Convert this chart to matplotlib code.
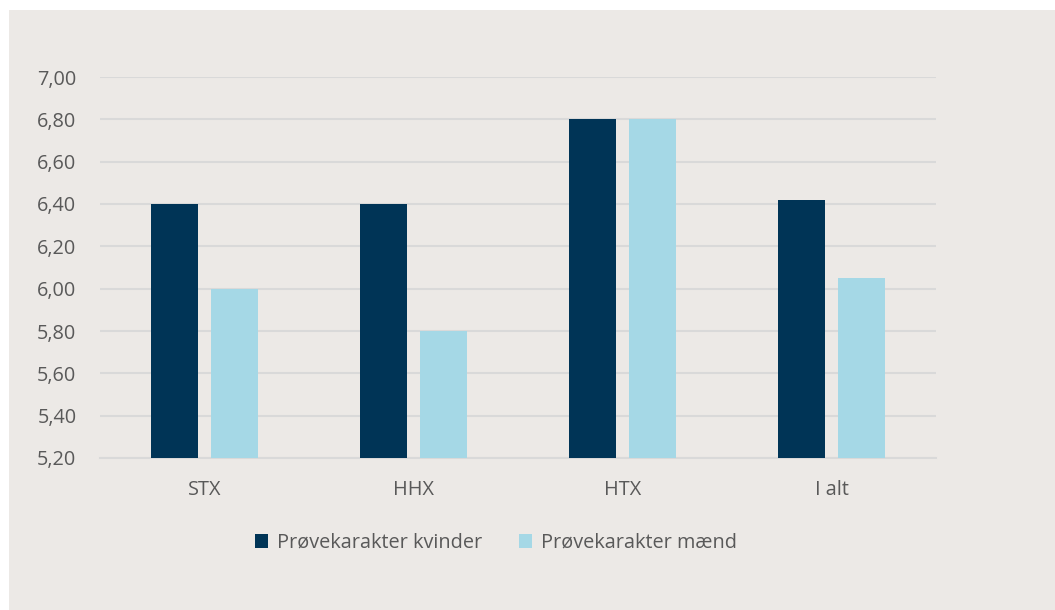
import numpy as np
import matplotlib.pyplot as plt
from matplotlib.patches import Rectangle

plt.rcParams["font.family"] = ["Open Sans", "DejaVu Sans"]

categories = ["STX", "HHX", "HTX", "I alt"]
kvinder = [6.40, 6.40, 6.80, 6.42]
maend = [6.00, 5.80, 6.80, 6.05]
yticks = [5.2, 5.4, 5.6, 5.8, 6.0, 6.2, 6.4, 6.6, 6.8, 7.0]
series_labels = ["Prøvekarakter kvinder", "Prøvekarakter mænd"]

W, H = 1055, 610
bg = "#ECE9E6"
text_col = "#595959"
grid_col = "#D9D9D9"

fig = plt.figure(figsize=(W / 100, H / 100), dpi=100, facecolor="white")
fig.patches.append(Rectangle((9 / W, 0), 1 - 9 / W, 1 - 10 / H,
                             transform=fig.transFigure, facecolor=bg,
                             edgecolor="none", zorder=-10))

ax = fig.add_axes([100 / W, 1 - 458 / H, 836 / W, (458 - 77) / H])
ax.set_facecolor("none")

x = np.arange(len(categories))
bw = 0.225
off = 0.143
ax.bar(x - off, [v - 5.2 for v in kvinder], bw, bottom=5.2, color="#003456",
       label=series_labels[0], zorder=3)
ax.bar(x + off, [v - 5.2 for v in maend], bw, bottom=5.2, color="#A5D8E6",
       label=series_labels[1], zorder=3)

ax.set_xlim(-0.5, len(categories) - 0.5)
ax.set_ylim(5.2, 7.0)
ax.set_yticks(yticks)
ax.set_yticklabels([f"{t:.2f}".replace(".", ",") for t in yticks])
ax.set_xticks(x)
ax.set_xticklabels(categories)
ax.tick_params(axis="both", length=0, labelsize=14.3, labelcolor=text_col)
ax.tick_params(axis="y", pad=17)
ax.tick_params(axis="x", pad=16)
ax.yaxis.grid(True, color=grid_col, linewidth=1.5, zorder=0)
ax.set_axisbelow(True)
for s in ["top", "right", "left"]:
    ax.spines[s].set_visible(False)
ax.spines["bottom"].set_color(grid_col)
ax.spines["bottom"].set_linewidth(1.5)

leg = fig.legend(loc="center", bbox_to_anchor=(496 / W, 1 - 543 / H), ncol=2,
                 frameon=False, fontsize=14.3, handlelength=0.65,
                 handleheight=0.65, handletextpad=0.45, columnspacing=1.9)
for t in leg.get_texts():
    t.set_color(text_col)

fig.savefig("out.png", dpi=100, facecolor="white")
